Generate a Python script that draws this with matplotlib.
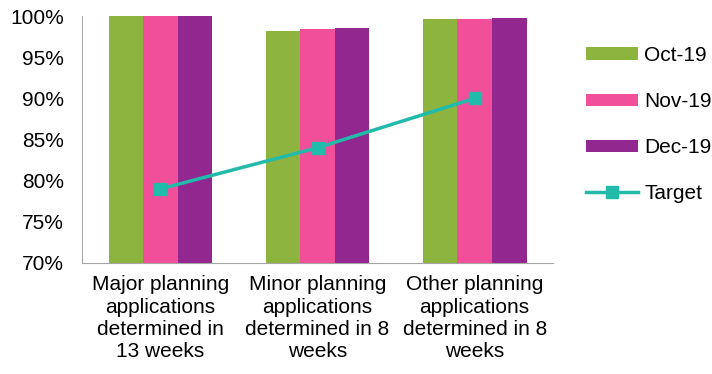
import matplotlib
matplotlib.use("Agg")
import matplotlib.pyplot as plt
import numpy as np
from matplotlib.ticker import FuncFormatter

plt.rcParams['font.family'] = ['Liberation Sans', 'DejaVu Sans']

categories = ["Major planning\napplications\ndetermined in\n13 weeks",
              "Minor planning\napplications\ndetermined in 8\nweeks",
              "Other planning\napplications\ndetermined in 8\nweeks"]
oct19 = [100.0, 98.2, 99.7]
nov19 = [100.0, 98.4, 99.7]
dec19 = [100.0, 98.6, 99.8]
target = [79, 84, 90]
yticks = [70, 75, 80, 85, 90, 95, 100]

fig = plt.figure(figsize=(7.12, 3.74), dpi=100)
ax = fig.add_axes([0.115, 0.297, 0.662, 0.66])

x = np.arange(len(categories))
w = 0.22
b1 = ax.bar(x - w, oct19, w, color='#8CB43F', label='Oct-19')
b2 = ax.bar(x, nov19, w, color='#F24F9A', label='Nov-19')
b3 = ax.bar(x + w, dec19, w, color='#92278F', label='Dec-19')
ln, = ax.plot(x, target, color='#22BAA8', lw=2.5, marker='s', ms=9, label='Target')

ax.set_ylim(70, 100)
ax.set_xlim(-0.5, 2.5)
ax.set_yticks(yticks)
ax.yaxis.set_major_formatter(FuncFormatter(lambda v, p: f"{v:.0f}%"))
ax.set_xticks(x)
ax.set_xticklabels(categories, fontsize=15, linespacing=1.22)
ax.tick_params(axis='y', labelsize=15, length=0, pad=13)
ax.tick_params(axis='x', length=0, pad=9)
for s in ['top', 'right']:
    ax.spines[s].set_visible(False)
ax.spines['left'].set_color('#A6A6A6')
ax.spines['bottom'].set_color('#A6A6A6')

ax.legend([b1, b2, b3, ln], ['Oct-19', 'Nov-19', 'Dec-19', 'Target'],
          loc='center left', bbox_to_anchor=(1.03, 0.56), frameon=False,
          fontsize=15, handlelength=2.5, labelspacing=1.3, handletextpad=0.3,
          handleheight=0.55)

fig.savefig("out.png", dpi=100)
